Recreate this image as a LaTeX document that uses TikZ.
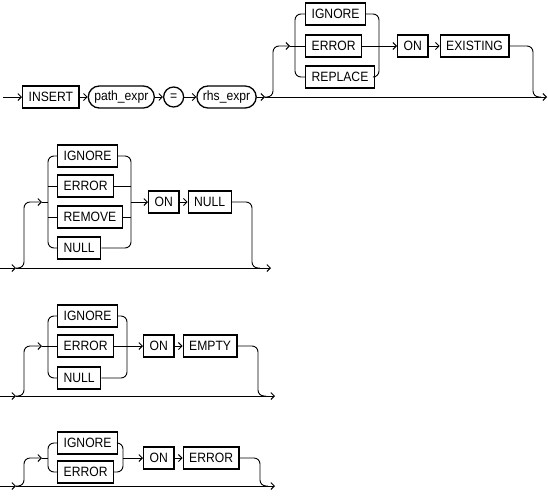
\documentclass[tikz,border=0pt]{standalone}
\usepackage{fontspec}
\setmainfont[FakeStretch=0.9]{Liberation Sans}
\usetikzlibrary{positioning,arrows.meta}
\tikzset{term/.style={draw,line width=1.3pt,inner xsep=6pt,inner ysep=0pt,minimum height=22pt,font=\fontsize{13.5}{16}\selectfont},
         nonterm/.style={term,rounded corners=11pt},
         op node/.style={term,circle,minimum size=20pt,inner sep=0pt},
         rail/.style={line width=0.9pt,rounded corners=6pt},
         >={Straight Barb[length=3.5pt,width=7pt]},
            }

\begin{document}
\begin{tikzpicture}[x=1pt,y=1pt]
    \useasboundingbox (0,0) rectangle (548,-498);

    % first line
    \node[term,anchor=west] (ins) at (22,-97) {INSERT};
    \node[nonterm] (pexpr) [right = 8pt of ins] {path\_expr};
    \node[op node] (eq) [right = 8pt of pexpr] {=};
    \node[nonterm] (rhs) [right = 12pt of eq] {rhs\_expr};
    \node[term,anchor=west] (ign1) at (305,-14) {IGNORE};
    \node[term,anchor=west] (err1) at (305,-46) {ERROR};
    \node[term,anchor=west] (rep1) at (305,-77) {REPLACE};
    \node[term,anchor=west] (on1) at (397,-46) {ON};
    \node[term] (exi1) [right = 11pt of on1] {EXISTING};
    \coordinate (s1) at (3,-97);
    \coordinate (j1) at (265,-97);
    \coordinate (u1) at (273,-46);
    \coordinate (a1) at (290,-46);
    \coordinate (l1) at (295,-46);
    \coordinate (r1) at (379,-46);
    \coordinate (d1) at (533,-97);
    \coordinate (k1) at (541,-97);
    \coordinate (e1) at (547,-97);

    \draw[rail,->] (s1) -- (ins);
    \draw[rail,->] (ins) -- (pexpr);
    \draw[rail,->] (pexpr) -- (eq);
    \draw[rail,->] (eq) -- (rhs);
    \draw[rail,->] (rhs) -- (j1);
    \draw[rail,->] (j1) -- (e1);
    \draw[rail,->] (j1) -| (u1) -- (a1);
    \draw[rail] (a1) -- (err1);
    \draw[rail] (l1) |- (ign1);
    \draw[rail] (l1) |- (rep1);
    \draw[rail] (ign1) -| (r1);
    \draw[rail] (rep1) -| (r1);
    \draw[rail,->] (err1) -- (on1);
    \draw[rail,->] (on1) -- (exi1);
    \draw[rail] (exi1) -| (d1) -- (k1);

    % second line
    \node[term,anchor=west] (ign2) at (57,-156) {IGNORE};
    \node[term,anchor=west] (err2) at (57,-186) {ERROR};
    \node[term,anchor=west] (rem2) at (57,-217) {REMOVE};
    \node[term,anchor=west] (nul2) at (57,-248) {NULL};
    \node[term,anchor=west] (on2) at (148,-202) {ON};
    \node[term] (nul2b) [right = 8pt of on2] {NULL};
    \coordinate (s2) at (0,-268);
    \coordinate (j2) at (16,-268);
    \coordinate (u2) at (24,-202);
    \coordinate (a2) at (42,-202);
    \coordinate (l2) at (48,-202);
    \coordinate (r2) at (131,-202);
    \coordinate (d2) at (252,-268);
    \coordinate (e2) at (271,-268);

    \draw[rail,->] (s2) -- (j2);
    \draw[rail,->] (j2) -- (e2);
    \draw[rail,->] (j2) -| (u2) -- (a2);
    \draw[rail] (a2) -- (l2);
    \draw[rail] (l2) |- (ign2);
    \draw[rail] (l2) |- (nul2);
    \draw[rail] (err2.west -| l2) -- (err2);
    \draw[rail] (rem2.west -| l2) -- (rem2);
    \draw[rail] (ign2) -| (r2);
    \draw[rail] (nul2) -| (r2);
    \draw[rail] (err2) -- (err2.east -| r2);
    \draw[rail] (rem2) -- (rem2.east -| r2);
    \draw[rail,->] (r2) -- (on2);
    \draw[rail,->] (on2) -- (nul2b);
    \draw[rail] (nul2b) -| (d2) -- ++(8,0);

    % third line
    \node[term,anchor=west] (ign3) at (57,-316) {IGNORE};
    \node[term,anchor=west] (err3) at (57,-346) {ERROR};
    \node[term,anchor=west] (nul3) at (57,-378) {NULL};
    \node[term,anchor=west] (on3) at (143,-346) {ON};
    \node[term] (emp3) [right = 8pt of on3] {EMPTY};
    \coordinate (s3) at (0,-396);
    \coordinate (j3) at (16,-396);
    \coordinate (u3) at (24,-346);
    \coordinate (a3) at (42,-346);
    \coordinate (l3) at (48,-346);
    \coordinate (r3) at (127,-346);
    \coordinate (d3) at (258,-396);
    \coordinate (e3) at (275,-396);

    \draw[rail,->] (s3) -- (j3);
    \draw[rail,->] (j3) -- (e3);
    \draw[rail,->] (j3) -| (u3) -- (a3);
    \draw[rail] (a3) -- (err3);
    \draw[rail] (l3) |- (ign3);
    \draw[rail] (l3) |- (nul3);
    \draw[rail] (ign3) -| (r3);
    \draw[rail] (nul3) -| (r3);
    \draw[rail,->] (err3) -- (on3);
    \draw[rail,->] (on3) -- (emp3);
    \draw[rail] (emp3) -| (d3) -- ++(8,0);

    % fourth line
    \node[term,anchor=west] (ign4) at (57,-443) {IGNORE};
    \node[term,anchor=west] (err4) at (57,-472) {ERROR};
    \node[term,anchor=west] (on4) at (143,-458) {ON};
    \node[term] (err4b) [right = 8pt of on4] {ERROR};
    \coordinate (s4) at (0,-486);
    \coordinate (j4) at (16,-486);
    \coordinate (u4) at (24,-458);
    \coordinate (a4) at (42,-458);
    \coordinate (l4) at (48,-458);
    \coordinate (r4) at (123,-458);
    \coordinate (d4) at (260,-486);
    \coordinate (e4) at (275,-486);

    \draw[rail,->] (s4) -- (j4);
    \draw[rail,->] (j4) -- (e4);
    \draw[rail,->] (j4) -| (u4) -- (a4);
    \draw[rail] (a4) -- (l4);
    \draw[rail] (l4) |- (ign4);
    \draw[rail] (l4) |- (err4);
    \draw[rail] (ign4) -| (r4);
    \draw[rail] (err4) -| (r4);
    \draw[rail,->] (r4) -- (on4);
    \draw[rail,->] (on4) -- (err4b);
    \draw[rail] (err4b) -| (d4) -- ++(8,0);
    
\end{tikzpicture}
\end{document}
